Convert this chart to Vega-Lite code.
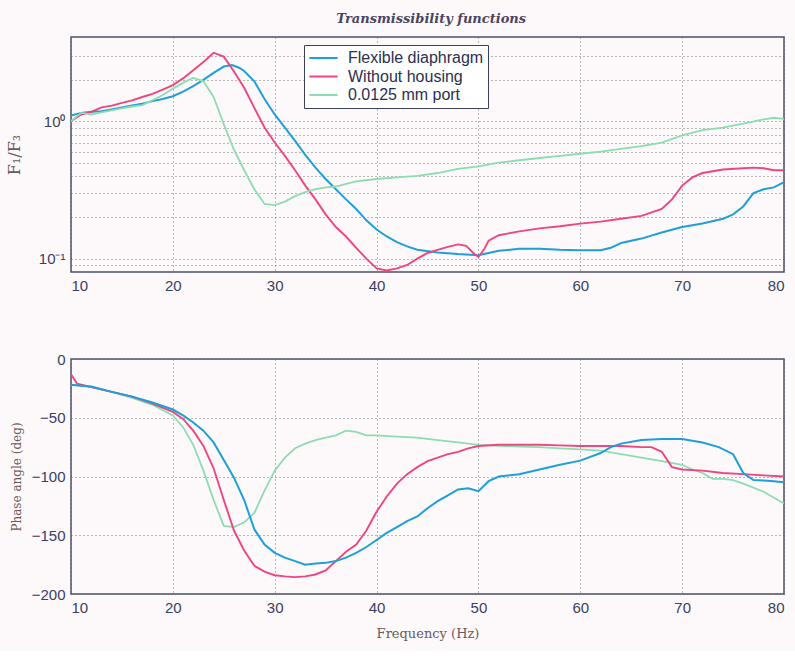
{
  "$schema": "https://vega.github.io/schema/vega-lite/v6.json",
  "background": "#fdf9fb",
  "padding": {"left": 5, "top": 13, "right": 12, "bottom": 10},
  "title": {"text": "Transmissibility functions", "font": "DejaVu Serif", "fontStyle": "italic", "fontWeight": "bold", "fontSize": 13, "color": "#4a4560", "anchor": "middle", "dx": 36, "offset": 10},
  "config": {
    "view": {"stroke": "#4a5068", "strokeWidth": 1.5},
    "axis": {"labelFont": "Liberation Sans", "labelFontSize": 15, "labelColor": "#3a4060", "titleFont": "DejaVu Serif", "titleFontWeight": "normal", "titleColor": "#6a5a5a", "ticks": false, "domain": false, "grid": true, "gridColor": "#666666", "gridDash": [1, 3], "gridWidth": 1, "gridOpacity": 0.9, "labelPadding": 6}
  },
  "spacing": 57,
  "resolve": {"scale": {"color": "independent"}, "legend": {"color": "independent"}},
  "vconcat": [
    {
      "width": 713, "height": 235,
      "data": {"values": [
        {"f":10,"v":1.1,"s":"Flexible diaphragm"},{"f":11,"v":1.15,"s":"Flexible diaphragm"},{"f":12,"v":1.17,"s":"Flexible diaphragm"},{"f":13,"v":1.18,"s":"Flexible diaphragm"},{"f":14,"v":1.22,"s":"Flexible diaphragm"},{"f":15,"v":1.26,"s":"Flexible diaphragm"},{"f":16,"v":1.3,"s":"Flexible diaphragm"},{"f":17,"v":1.34,"s":"Flexible diaphragm"},{"f":18,"v":1.4,"s":"Flexible diaphragm"},{"f":19,"v":1.45,"s":"Flexible diaphragm"},{"f":20,"v":1.52,"s":"Flexible diaphragm"},{"f":21,"v":1.64,"s":"Flexible diaphragm"},{"f":22,"v":1.8,"s":"Flexible diaphragm"},{"f":23,"v":2.0,"s":"Flexible diaphragm"},{"f":24,"v":2.25,"s":"Flexible diaphragm"},{"f":25,"v":2.5,"s":"Flexible diaphragm"},{"f":25.8,"v":2.56,"s":"Flexible diaphragm"},{"f":26.5,"v":2.45,"s":"Flexible diaphragm"},{"f":27,"v":2.32,"s":"Flexible diaphragm"},{"f":28,"v":1.95,"s":"Flexible diaphragm"},{"f":29,"v":1.45,"s":"Flexible diaphragm"},{"f":30,"v":1.12,"s":"Flexible diaphragm"},{"f":31,"v":0.9,"s":"Flexible diaphragm"},{"f":32,"v":0.72,"s":"Flexible diaphragm"},{"f":33,"v":0.57,"s":"Flexible diaphragm"},{"f":34,"v":0.46,"s":"Flexible diaphragm"},{"f":35,"v":0.38,"s":"Flexible diaphragm"},{"f":36,"v":0.32,"s":"Flexible diaphragm"},{"f":37,"v":0.27,"s":"Flexible diaphragm"},{"f":38,"v":0.23,"s":"Flexible diaphragm"},{"f":39,"v":0.19,"s":"Flexible diaphragm"},{"f":40,"v":0.163,"s":"Flexible diaphragm"},{"f":41,"v":0.145,"s":"Flexible diaphragm"},{"f":42,"v":0.132,"s":"Flexible diaphragm"},{"f":43,"v":0.123,"s":"Flexible diaphragm"},{"f":44,"v":0.116,"s":"Flexible diaphragm"},{"f":46,"v":0.111,"s":"Flexible diaphragm"},{"f":48,"v":0.108,"s":"Flexible diaphragm"},{"f":50,"v":0.106,"s":"Flexible diaphragm"},{"f":51,"v":0.11,"s":"Flexible diaphragm"},{"f":52,"v":0.114,"s":"Flexible diaphragm"},{"f":54,"v":0.118,"s":"Flexible diaphragm"},{"f":56,"v":0.118,"s":"Flexible diaphragm"},{"f":58,"v":0.116,"s":"Flexible diaphragm"},{"f":60,"v":0.115,"s":"Flexible diaphragm"},{"f":62,"v":0.115,"s":"Flexible diaphragm"},{"f":63,"v":0.12,"s":"Flexible diaphragm"},{"f":64,"v":0.13,"s":"Flexible diaphragm"},{"f":66,"v":0.14,"s":"Flexible diaphragm"},{"f":68,"v":0.155,"s":"Flexible diaphragm"},{"f":70,"v":0.17,"s":"Flexible diaphragm"},{"f":72,"v":0.18,"s":"Flexible diaphragm"},{"f":74,"v":0.195,"s":"Flexible diaphragm"},{"f":75,"v":0.21,"s":"Flexible diaphragm"},{"f":76,"v":0.24,"s":"Flexible diaphragm"},{"f":77,"v":0.3,"s":"Flexible diaphragm"},{"f":78,"v":0.32,"s":"Flexible diaphragm"},{"f":79,"v":0.33,"s":"Flexible diaphragm"},{"f":80,"v":0.36,"s":"Flexible diaphragm"},
        {"f":10,"v":1.0,"s":"Without housing"},{"f":11,"v":1.12,"s":"Without housing"},{"f":12,"v":1.17,"s":"Without housing"},{"f":13,"v":1.26,"s":"Without housing"},{"f":14,"v":1.3,"s":"Without housing"},{"f":15,"v":1.36,"s":"Without housing"},{"f":16,"v":1.42,"s":"Without housing"},{"f":17,"v":1.5,"s":"Without housing"},{"f":18,"v":1.58,"s":"Without housing"},{"f":19,"v":1.7,"s":"Without housing"},{"f":20,"v":1.83,"s":"Without housing"},{"f":21,"v":2.05,"s":"Without housing"},{"f":22,"v":2.35,"s":"Without housing"},{"f":23,"v":2.7,"s":"Without housing"},{"f":24,"v":3.15,"s":"Without housing"},{"f":25,"v":2.95,"s":"Without housing"},{"f":26,"v":2.3,"s":"Without housing"},{"f":27,"v":1.75,"s":"Without housing"},{"f":28,"v":1.25,"s":"Without housing"},{"f":29,"v":0.9,"s":"Without housing"},{"f":30,"v":0.7,"s":"Without housing"},{"f":31,"v":0.56,"s":"Without housing"},{"f":32,"v":0.44,"s":"Without housing"},{"f":33,"v":0.34,"s":"Without housing"},{"f":34,"v":0.27,"s":"Without housing"},{"f":35,"v":0.21,"s":"Without housing"},{"f":36,"v":0.17,"s":"Without housing"},{"f":37,"v":0.145,"s":"Without housing"},{"f":38,"v":0.12,"s":"Without housing"},{"f":39,"v":0.1,"s":"Without housing"},{"f":40,"v":0.085,"s":"Without housing"},{"f":41,"v":0.082,"s":"Without housing"},{"f":42,"v":0.085,"s":"Without housing"},{"f":43,"v":0.09,"s":"Without housing"},{"f":44,"v":0.1,"s":"Without housing"},{"f":45,"v":0.11,"s":"Without housing"},{"f":46,"v":0.116,"s":"Without housing"},{"f":47,"v":0.122,"s":"Without housing"},{"f":48,"v":0.127,"s":"Without housing"},{"f":48.8,"v":0.124,"s":"Without housing"},{"f":49.5,"v":0.11,"s":"Without housing"},{"f":50,"v":0.103,"s":"Without housing"},{"f":50.5,"v":0.115,"s":"Without housing"},{"f":51,"v":0.135,"s":"Without housing"},{"f":52,"v":0.148,"s":"Without housing"},{"f":54,"v":0.158,"s":"Without housing"},{"f":56,"v":0.166,"s":"Without housing"},{"f":58,"v":0.172,"s":"Without housing"},{"f":60,"v":0.18,"s":"Without housing"},{"f":62,"v":0.186,"s":"Without housing"},{"f":64,"v":0.195,"s":"Without housing"},{"f":66,"v":0.205,"s":"Without housing"},{"f":68,"v":0.23,"s":"Without housing"},{"f":69,"v":0.27,"s":"Without housing"},{"f":70,"v":0.34,"s":"Without housing"},{"f":71,"v":0.39,"s":"Without housing"},{"f":72,"v":0.42,"s":"Without housing"},{"f":74,"v":0.445,"s":"Without housing"},{"f":76,"v":0.455,"s":"Without housing"},{"f":77,"v":0.46,"s":"Without housing"},{"f":78,"v":0.455,"s":"Without housing"},{"f":79,"v":0.44,"s":"Without housing"},{"f":80,"v":0.44,"s":"Without housing"},
        {"f":10,"v":1.0,"s":"0.0125 mm port"},{"f":11,"v":1.15,"s":"0.0125 mm port"},{"f":12,"v":1.12,"s":"0.0125 mm port"},{"f":13,"v":1.16,"s":"0.0125 mm port"},{"f":14,"v":1.2,"s":"0.0125 mm port"},{"f":15,"v":1.24,"s":"0.0125 mm port"},{"f":16,"v":1.28,"s":"0.0125 mm port"},{"f":17,"v":1.31,"s":"0.0125 mm port"},{"f":18,"v":1.42,"s":"0.0125 mm port"},{"f":19,"v":1.55,"s":"0.0125 mm port"},{"f":20,"v":1.72,"s":"0.0125 mm port"},{"f":21,"v":1.9,"s":"0.0125 mm port"},{"f":22,"v":2.07,"s":"0.0125 mm port"},{"f":23,"v":1.95,"s":"0.0125 mm port"},{"f":24,"v":1.5,"s":"0.0125 mm port"},{"f":25,"v":0.95,"s":"0.0125 mm port"},{"f":26,"v":0.62,"s":"0.0125 mm port"},{"f":27,"v":0.44,"s":"0.0125 mm port"},{"f":28,"v":0.32,"s":"0.0125 mm port"},{"f":29,"v":0.25,"s":"0.0125 mm port"},{"f":30,"v":0.245,"s":"0.0125 mm port"},{"f":31,"v":0.26,"s":"0.0125 mm port"},{"f":32,"v":0.285,"s":"0.0125 mm port"},{"f":33,"v":0.305,"s":"0.0125 mm port"},{"f":34,"v":0.32,"s":"0.0125 mm port"},{"f":35,"v":0.33,"s":"0.0125 mm port"},{"f":36,"v":0.335,"s":"0.0125 mm port"},{"f":37,"v":0.35,"s":"0.0125 mm port"},{"f":38,"v":0.365,"s":"0.0125 mm port"},{"f":40,"v":0.38,"s":"0.0125 mm port"},{"f":42,"v":0.39,"s":"0.0125 mm port"},{"f":44,"v":0.4,"s":"0.0125 mm port"},{"f":46,"v":0.42,"s":"0.0125 mm port"},{"f":48,"v":0.45,"s":"0.0125 mm port"},{"f":50,"v":0.47,"s":"0.0125 mm port"},{"f":52,"v":0.5,"s":"0.0125 mm port"},{"f":54,"v":0.52,"s":"0.0125 mm port"},{"f":56,"v":0.54,"s":"0.0125 mm port"},{"f":58,"v":0.56,"s":"0.0125 mm port"},{"f":60,"v":0.58,"s":"0.0125 mm port"},{"f":62,"v":0.6,"s":"0.0125 mm port"},{"f":64,"v":0.63,"s":"0.0125 mm port"},{"f":66,"v":0.66,"s":"0.0125 mm port"},{"f":68,"v":0.7,"s":"0.0125 mm port"},{"f":70,"v":0.79,"s":"0.0125 mm port"},{"f":72,"v":0.86,"s":"0.0125 mm port"},{"f":74,"v":0.9,"s":"0.0125 mm port"},{"f":76,"v":0.96,"s":"0.0125 mm port"},{"f":78,"v":1.03,"s":"0.0125 mm port"},{"f":79,"v":1.06,"s":"0.0125 mm port"},{"f":80,"v":1.04,"s":"0.0125 mm port"}
      ]},
      "mark": {"type": "line", "clip": true},
      "encoding": {
        "x": {"field": "f", "type": "quantitative", "scale": {"domain": [10, 80], "nice": false}, "axis": {"values": [10, 20, 30, 40, 50, 60, 70, 80], "title": null}},
        "y": {"field": "v", "type": "quantitative", "scale": {"type": "log", "domain": [0.08, 4.1], "nice": false}, "axis": {"values": [0.09, 0.1, 0.2, 0.3, 0.4, 0.5, 0.6, 0.7, 0.8, 0.9, 1, 2, 3], "labelExpr": "datum.value == 1 ? '10⁰' : (datum.value == 0.1 ? '10⁻¹' : '')", "title": "F₁/F₃", "titleFontSize": 16, "titlePadding": 16}},
        "color": {"field": "s", "type": "nominal", "scale": {"domain": ["Flexible diaphragm", "Without housing", "0.0125 mm port"], "range": ["#1e9fd8", "#f0457d", "#8edcb2"]},
          "legend": {"title": null, "orient": "none", "legendX": 233, "legendY": 8, "symbolType": "stroke", "symbolSize": 800, "symbolStrokeWidth": 2, "clipHeight": 18, "labelFont": "Liberation Sans", "labelFontSize": 16, "labelColor": "#2a3050", "strokeColor": "#3a4060", "fillColor": "#ffffff", "padding": 4, "rowPadding": 0.5, "labelOffset": 9}},
        "strokeWidth": {"field": "s", "type": "nominal", "scale": {"domain": ["Flexible diaphragm", "Without housing", "0.0125 mm port"], "range": [2, 1.8, 1.3]}, "legend": null}
      }
    },
    {
      "width": 713, "height": 235,
      "data": {"values": [
        {"f":10,"v":-22,"s":"0.0125 mm port"},{"f":12,"v":-24,"s":"0.0125 mm port"},{"f":14,"v":-28,"s":"0.0125 mm port"},{"f":16,"v":-33,"s":"0.0125 mm port"},{"f":18,"v":-39,"s":"0.0125 mm port"},{"f":20,"v":-48,"s":"0.0125 mm port"},{"f":21,"v":-58,"s":"0.0125 mm port"},{"f":22,"v":-73,"s":"0.0125 mm port"},{"f":23,"v":-95,"s":"0.0125 mm port"},{"f":24,"v":-120,"s":"0.0125 mm port"},{"f":25,"v":-142,"s":"0.0125 mm port"},{"f":26,"v":-143,"s":"0.0125 mm port"},{"f":27,"v":-139,"s":"0.0125 mm port"},{"f":28,"v":-131,"s":"0.0125 mm port"},{"f":29,"v":-112,"s":"0.0125 mm port"},{"f":30,"v":-95,"s":"0.0125 mm port"},{"f":31,"v":-84,"s":"0.0125 mm port"},{"f":32,"v":-76,"s":"0.0125 mm port"},{"f":33,"v":-72,"s":"0.0125 mm port"},{"f":34,"v":-69,"s":"0.0125 mm port"},{"f":35,"v":-67,"s":"0.0125 mm port"},{"f":36,"v":-65,"s":"0.0125 mm port"},{"f":37,"v":-61,"s":"0.0125 mm port"},{"f":38,"v":-62,"s":"0.0125 mm port"},{"f":39,"v":-65,"s":"0.0125 mm port"},{"f":40,"v":-65,"s":"0.0125 mm port"},{"f":42,"v":-66,"s":"0.0125 mm port"},{"f":44,"v":-67,"s":"0.0125 mm port"},{"f":46,"v":-69,"s":"0.0125 mm port"},{"f":48,"v":-71,"s":"0.0125 mm port"},{"f":50,"v":-73,"s":"0.0125 mm port"},{"f":52,"v":-74,"s":"0.0125 mm port"},{"f":54,"v":-74.5,"s":"0.0125 mm port"},{"f":56,"v":-75,"s":"0.0125 mm port"},{"f":58,"v":-76,"s":"0.0125 mm port"},{"f":60,"v":-77,"s":"0.0125 mm port"},{"f":62,"v":-78,"s":"0.0125 mm port"},{"f":64,"v":-81,"s":"0.0125 mm port"},{"f":66,"v":-84,"s":"0.0125 mm port"},{"f":68,"v":-87,"s":"0.0125 mm port"},{"f":70,"v":-90,"s":"0.0125 mm port"},{"f":71,"v":-94,"s":"0.0125 mm port"},{"f":72,"v":-97,"s":"0.0125 mm port"},{"f":73,"v":-102,"s":"0.0125 mm port"},{"f":74,"v":-102,"s":"0.0125 mm port"},{"f":75,"v":-103,"s":"0.0125 mm port"},{"f":76,"v":-106,"s":"0.0125 mm port"},{"f":78,"v":-113,"s":"0.0125 mm port"},{"f":80,"v":-123,"s":"0.0125 mm port"},
        {"f":10,"v":-13,"s":"Without housing"},{"f":10.6,"v":-21,"s":"Without housing"},{"f":12,"v":-24,"s":"Without housing"},{"f":14,"v":-28,"s":"Without housing"},{"f":16,"v":-32,"s":"Without housing"},{"f":18,"v":-38,"s":"Without housing"},{"f":20,"v":-45,"s":"Without housing"},{"f":21,"v":-51,"s":"Without housing"},{"f":22,"v":-61,"s":"Without housing"},{"f":23,"v":-74,"s":"Without housing"},{"f":24,"v":-93,"s":"Without housing"},{"f":25,"v":-120,"s":"Without housing"},{"f":26,"v":-146,"s":"Without housing"},{"f":27,"v":-163,"s":"Without housing"},{"f":28,"v":-176,"s":"Without housing"},{"f":29,"v":-181,"s":"Without housing"},{"f":30,"v":-184,"s":"Without housing"},{"f":31,"v":-185,"s":"Without housing"},{"f":32,"v":-185.6,"s":"Without housing"},{"f":33,"v":-185,"s":"Without housing"},{"f":34,"v":-183.4,"s":"Without housing"},{"f":35,"v":-180,"s":"Without housing"},{"f":36,"v":-172,"s":"Without housing"},{"f":37,"v":-164,"s":"Without housing"},{"f":38,"v":-158,"s":"Without housing"},{"f":39,"v":-146,"s":"Without housing"},{"f":40,"v":-130,"s":"Without housing"},{"f":41,"v":-117,"s":"Without housing"},{"f":42,"v":-106,"s":"Without housing"},{"f":43,"v":-98,"s":"Without housing"},{"f":44,"v":-92,"s":"Without housing"},{"f":45,"v":-87,"s":"Without housing"},{"f":46,"v":-84,"s":"Without housing"},{"f":47,"v":-81,"s":"Without housing"},{"f":48,"v":-79,"s":"Without housing"},{"f":49,"v":-76,"s":"Without housing"},{"f":50,"v":-74,"s":"Without housing"},{"f":52,"v":-73,"s":"Without housing"},{"f":54,"v":-73,"s":"Without housing"},{"f":56,"v":-73,"s":"Without housing"},{"f":58,"v":-73.5,"s":"Without housing"},{"f":60,"v":-74,"s":"Without housing"},{"f":62,"v":-74,"s":"Without housing"},{"f":64,"v":-74,"s":"Without housing"},{"f":66,"v":-75,"s":"Without housing"},{"f":67,"v":-75,"s":"Without housing"},{"f":68,"v":-79,"s":"Without housing"},{"f":69,"v":-92,"s":"Without housing"},{"f":70,"v":-94,"s":"Without housing"},{"f":72,"v":-95,"s":"Without housing"},{"f":74,"v":-97,"s":"Without housing"},{"f":76,"v":-98,"s":"Without housing"},{"f":78,"v":-99,"s":"Without housing"},{"f":80,"v":-100,"s":"Without housing"},
        {"f":10,"v":-22,"s":"Flexible diaphragm"},{"f":12,"v":-23.5,"s":"Flexible diaphragm"},{"f":14,"v":-28,"s":"Flexible diaphragm"},{"f":16,"v":-32,"s":"Flexible diaphragm"},{"f":18,"v":-37,"s":"Flexible diaphragm"},{"f":20,"v":-43,"s":"Flexible diaphragm"},{"f":21,"v":-48,"s":"Flexible diaphragm"},{"f":22,"v":-54,"s":"Flexible diaphragm"},{"f":23,"v":-61,"s":"Flexible diaphragm"},{"f":24,"v":-71,"s":"Flexible diaphragm"},{"f":25,"v":-86,"s":"Flexible diaphragm"},{"f":26,"v":-101,"s":"Flexible diaphragm"},{"f":27,"v":-120,"s":"Flexible diaphragm"},{"f":28,"v":-145,"s":"Flexible diaphragm"},{"f":29,"v":-158,"s":"Flexible diaphragm"},{"f":30,"v":-165,"s":"Flexible diaphragm"},{"f":31,"v":-169,"s":"Flexible diaphragm"},{"f":32,"v":-172,"s":"Flexible diaphragm"},{"f":33,"v":-175,"s":"Flexible diaphragm"},{"f":34,"v":-174,"s":"Flexible diaphragm"},{"f":35,"v":-173.5,"s":"Flexible diaphragm"},{"f":36,"v":-172,"s":"Flexible diaphragm"},{"f":37,"v":-169,"s":"Flexible diaphragm"},{"f":38,"v":-165,"s":"Flexible diaphragm"},{"f":39,"v":-160,"s":"Flexible diaphragm"},{"f":40,"v":-154,"s":"Flexible diaphragm"},{"f":41,"v":-148,"s":"Flexible diaphragm"},{"f":42,"v":-143,"s":"Flexible diaphragm"},{"f":43,"v":-138,"s":"Flexible diaphragm"},{"f":44,"v":-134,"s":"Flexible diaphragm"},{"f":45,"v":-127,"s":"Flexible diaphragm"},{"f":46,"v":-121,"s":"Flexible diaphragm"},{"f":47,"v":-116,"s":"Flexible diaphragm"},{"f":48,"v":-111,"s":"Flexible diaphragm"},{"f":49,"v":-110,"s":"Flexible diaphragm"},{"f":50,"v":-112.5,"s":"Flexible diaphragm"},{"f":51,"v":-104,"s":"Flexible diaphragm"},{"f":52,"v":-100,"s":"Flexible diaphragm"},{"f":54,"v":-98,"s":"Flexible diaphragm"},{"f":56,"v":-94,"s":"Flexible diaphragm"},{"f":58,"v":-90,"s":"Flexible diaphragm"},{"f":60,"v":-86.5,"s":"Flexible diaphragm"},{"f":62,"v":-80,"s":"Flexible diaphragm"},{"f":63,"v":-75,"s":"Flexible diaphragm"},{"f":64,"v":-72,"s":"Flexible diaphragm"},{"f":66,"v":-69,"s":"Flexible diaphragm"},{"f":68,"v":-68,"s":"Flexible diaphragm"},{"f":70,"v":-68,"s":"Flexible diaphragm"},{"f":72,"v":-71,"s":"Flexible diaphragm"},{"f":73.6,"v":-75,"s":"Flexible diaphragm"},{"f":75,"v":-81,"s":"Flexible diaphragm"},{"f":76,"v":-97,"s":"Flexible diaphragm"},{"f":77,"v":-103,"s":"Flexible diaphragm"},{"f":78,"v":-103.5,"s":"Flexible diaphragm"},{"f":79,"v":-104,"s":"Flexible diaphragm"},{"f":80,"v":-105,"s":"Flexible diaphragm"}
      ]},
      "mark": {"type": "line", "clip": true},
      "encoding": {
        "x": {"field": "f", "type": "quantitative", "scale": {"domain": [10, 80], "nice": false}, "axis": {"values": [10, 20, 30, 40, 50, 60, 70, 80], "title": "Frequency (Hz)", "titleFontSize": 13, "titlePadding": 12}},
        "y": {"field": "v", "type": "quantitative", "scale": {"domain": [-200, 0], "nice": false}, "axis": {"values": [-200, -150, -100, -50, 0], "title": "Phase angle (deg)", "titleFontSize": 12, "titlePadding": 8}},
        "color": {"field": "s", "type": "nominal", "scale": {"domain": ["Flexible diaphragm", "Without housing", "0.0125 mm port"], "range": ["#1e9fd8", "#f0457d", "#8edcb2"]}, "legend": null},
        "strokeWidth": {"field": "s", "type": "nominal", "scale": {"domain": ["Flexible diaphragm", "Without housing", "0.0125 mm port"], "range": [2, 1.8, 1.3]}, "legend": null}
      }
    }
  ]
}
